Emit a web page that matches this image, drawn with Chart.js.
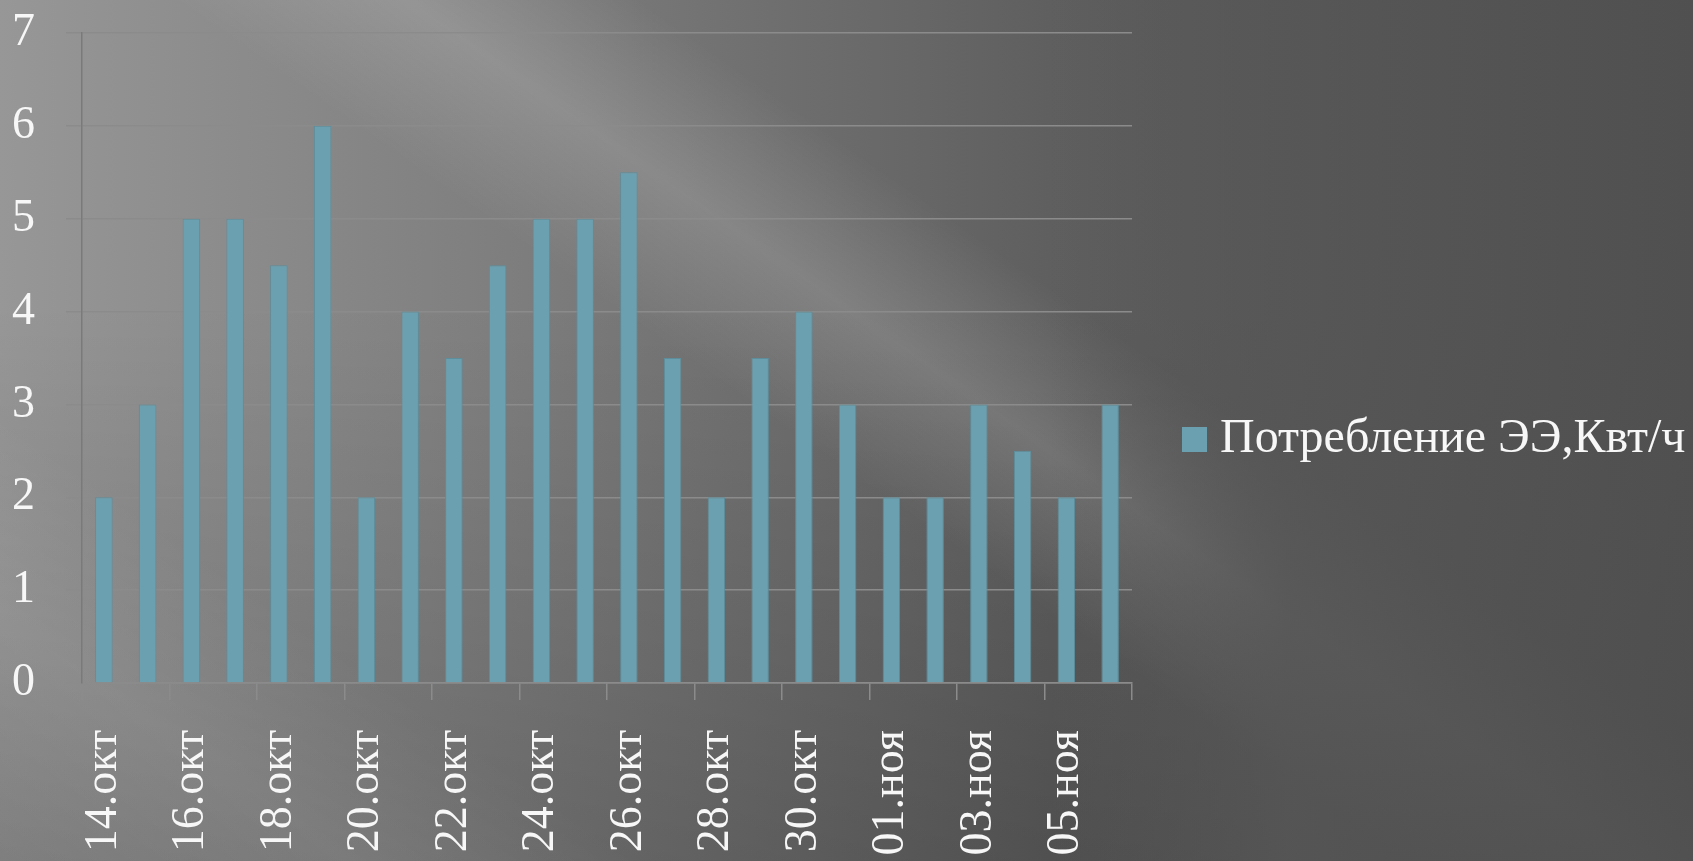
<!DOCTYPE html>
<html lang="ru">
<head>
<meta charset="utf-8">
<title>Потребление ЭЭ</title>
<script src="https://cdn.jsdelivr.net/npm/chart.js@4.4.1/dist/chart.umd.min.js"></script>
<style>
    html, body {
        margin: 0;
        padding: 0;
        width: 1693px;
        height: 861px;
        overflow: hidden;
    }
    body {
        background:
            linear-gradient(to right, rgba(86,86,86,0) 62%, rgba(86,86,86,0.85) 76%, rgba(80,80,80,0.9) 100%),
            linear-gradient(35deg, rgba(255,255,255,0) 0%, rgba(255,255,255,0.07) 12%, rgba(255,255,255,0) 22%,
                rgba(255,255,255,0) 48%, rgba(255,255,255,0.15) 56%, rgba(255,255,255,0) 64%),
            linear-gradient(to bottom, rgba(0,0,0,0) 35%, rgba(0,0,0,0.16) 100%),
            linear-gradient(to right, #979797 0%, #7e7e7e 30%, #5f5f5f 62%, #515151 100%);
    }
    #chart-wrap {
        position: relative;
        width: 1693px;
        height: 861px;
    }
    #legend {
        position: absolute;
        left: 1182px;
        top: 412px;
        font-family: 'Liberation Serif', 'Times New Roman', serif;
        font-size: 48px;
        line-height: 48px;
        color: #f7f7f7;
        white-space: nowrap;
    }
    #legend .swatch {
        position: absolute;
        left: 0;
        top: 15px;
        width: 25px;
        height: 25px;
    }
    #legend .text {
        position: absolute;
        left: 38px;
        top: 0;
    }
</style>
</head>
<body>
<div id="chart-wrap">
    <canvas id="energy-chart"></canvas>
    <div id="legend"><span class="swatch"></span><span class="text"></span></div>
</div>
<script>
// --------------------------------------------------------------------------
// Data
// --------------------------------------------------------------------------
const dates = [
    '14.окт', '15.окт', '16.окт', '17.окт', '18.окт', '19.окт', '20.окт', '21.окт',
    '22.окт', '23.окт', '24.окт', '25.окт', '26.окт', '27.окт', '28.окт', '29.окт',
    '30.окт', '31.окт', '01.ноя', '02.ноя', '03.ноя', '04.ноя', '05.ноя', '06.ноя'
];
const consumption = [
    2, 3, 5, 5, 4.5, 6, 2, 4,
    3.5, 4.5, 5, 5, 5.5, 3.5, 2, 3.5,
    4, 3, 2, 2, 3, 2.5, 2, 3
];
const seriesName = 'Потребление ЭЭ,Квт/ч';
const yTicks = [0, 1, 2, 3, 4, 5, 6, 7];

// --------------------------------------------------------------------------
// Styles
// --------------------------------------------------------------------------
const serif = "'Liberation Serif', 'Times New Roman', serif";
const lineColor = '#8b8b8b';
const textColor = '#f7f7f7';
const barColor = '#6aa0b0';

// HTML legend (Chart.js caps a right-hand legend at a quarter of the width)
document.querySelector('#legend .text').textContent = seriesName;
document.querySelector('#legend .swatch').style.background = barColor;

const ctx = document.getElementById('energy-chart').getContext('2d');

new Chart(ctx, {
    type: 'bar',
    data: {
        labels: dates,
        datasets: [{
            label: seriesName,
            data: consumption,
            backgroundColor: barColor,
            borderColor: '#5d8e9c',
            borderWidth: 1,
            barPercentage: 0.4,
            categoryPercentage: 1.0
        }]
    },
    options: {
        responsive: true,
        maintainAspectRatio: false,
        animation: false,
        layout: {
            padding: { top: 33, left: 12, right: 561, bottom: 0 }
        },
        scales: {
            x: {
                offset: true,
                afterFit: axis => {
                    axis.height = 178;
                    axis.paddingLeft = 0;
                    axis.paddingRight = 0;
                },
                grid: {
                    offset: true,
                    drawOnChartArea: false,
                    drawTicks: true,
                    tickLength: 17,
                    lineWidth: 1.5,
                    // tick marks only every second category boundary
                    color: c => (c.index === undefined || c.index % 2 === 0) ? lineColor : 'rgba(0,0,0,0)'
                },
                border: { display: true, color: lineColor, width: 1.5 },
                ticks: {
                    autoSkip: false,
                    minRotation: 90,
                    maxRotation: 90,
                    padding: 30,
                    color: textColor,
                    font: { family: serif, size: 46 },
                    callback: function (value, index) {
                        return index % 2 === 0 ? this.getLabelForValue(value) : '';
                    }
                }
            },
            y: {
                min: yTicks[0],
                max: yTicks[yTicks.length - 1],
                afterBuildTicks: axis => { axis.ticks = yTicks.map(v => ({ value: v })); },
                afterFit: axis => {
                    axis.width = 70;
                    axis.paddingTop = 0;
                    axis.paddingBottom = 0;
                },
                grid: {
                    color: lineColor,
                    lineWidth: 1.5,
                    tickLength: 16
                },
                border: { display: true, color: '#7a7a7a', width: 1.5 },
                ticks: {
                    padding: 31,
                    color: textColor,
                    font: { family: serif, size: 46 }
                }
            }
        },
        plugins: {
            legend: { display: false },
            tooltip: { enabled: false }
        }
    }
});
</script>
</body>
</html>
